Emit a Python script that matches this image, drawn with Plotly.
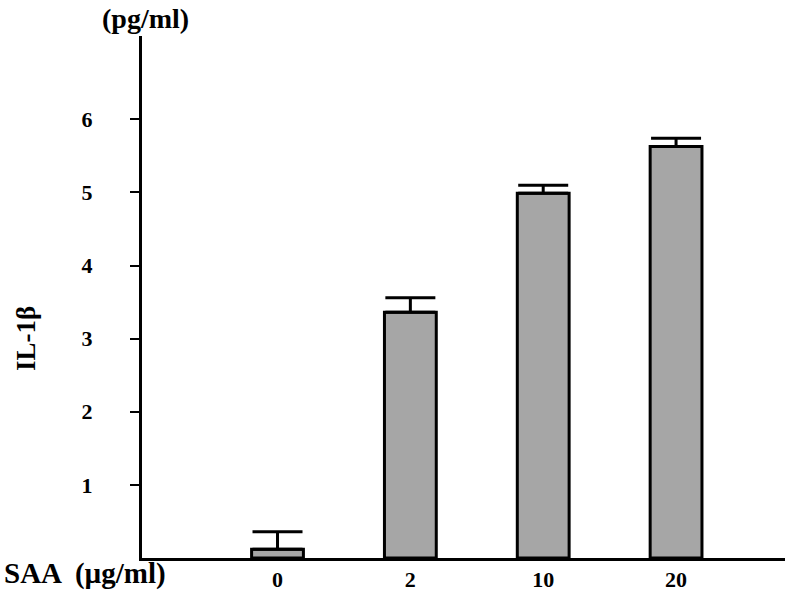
import plotly.graph_objects as go

categories = ["0", "2", "10", "20"]
il1b_mean = [0.12, 3.36, 4.99, 5.63]
il1b_err = [0.24, 0.2, 0.11, 0.11]
y_ticks = [1, 2, 3, 4, 5, 6]

font = "Liberation Serif"

fig = go.Figure()
fig.add_trace(go.Bar(
    x=categories, y=il1b_mean, width=0.39,
    marker=dict(color="#a6a6a6", line=dict(color="black", width=3)),
    error_y=dict(type="data", array=il1b_err, arrayminus=[0] * 4, symmetric=False,
                 color="black", thickness=3, width=25),
))

fig.update_layout(
    width=787, height=594,
    margin=dict(l=142, r=2, t=36, b=33),
    plot_bgcolor="white", paper_bgcolor="white",
    showlegend=False,
    font=dict(family=font, color="black"),
    xaxis=dict(type="category", range=[-1.02, 3.82], showline=True, linecolor="black",
               linewidth=3, ticks="", showgrid=False, zeroline=False,
               tickfont=dict(size=22, family=font)),
    yaxis=dict(range=[0, 7.14], showline=True, linecolor="black", linewidth=3,
               ticks="outside", ticklen=9, tickwidth=2, tickcolor="black",
               tickvals=y_ticks, ticktext=[f"<b>{v}</b>" for v in y_ticks],
               ticklabelstandoff=33, showgrid=False, zeroline=False,
               tickfont=dict(size=22, family=font)),
)
fig.update_xaxes(ticktext=[f"<b>{c}</b>" for c in categories], tickvals=categories)

fig.add_annotation(text="<b>SAA  (µg/ml)</b>", xref="paper", yref="paper", x=-0.218, y=-0.03,
                   xanchor="left", yanchor="middle", showarrow=False, font=dict(size=29, family=font))
fig.add_annotation(text="<b>(pg/ml)</b>", xref="paper", yref="paper", x=0.005, y=1.034,
                   xanchor="center", yanchor="middle", showarrow=False,
                   font=dict(size=28, family=font))
fig.add_annotation(text="<b>IL-1β</b>", xref="paper", yref="paper", x=-0.180, y=0.42,
                   xanchor="center", yanchor="middle",
                   textangle=-90, showarrow=False, font=dict(size=27, family=font))

fig.write_html("out.html", config={"displayModeBar": False},
               post_script="document.body.style.margin='0px';")
